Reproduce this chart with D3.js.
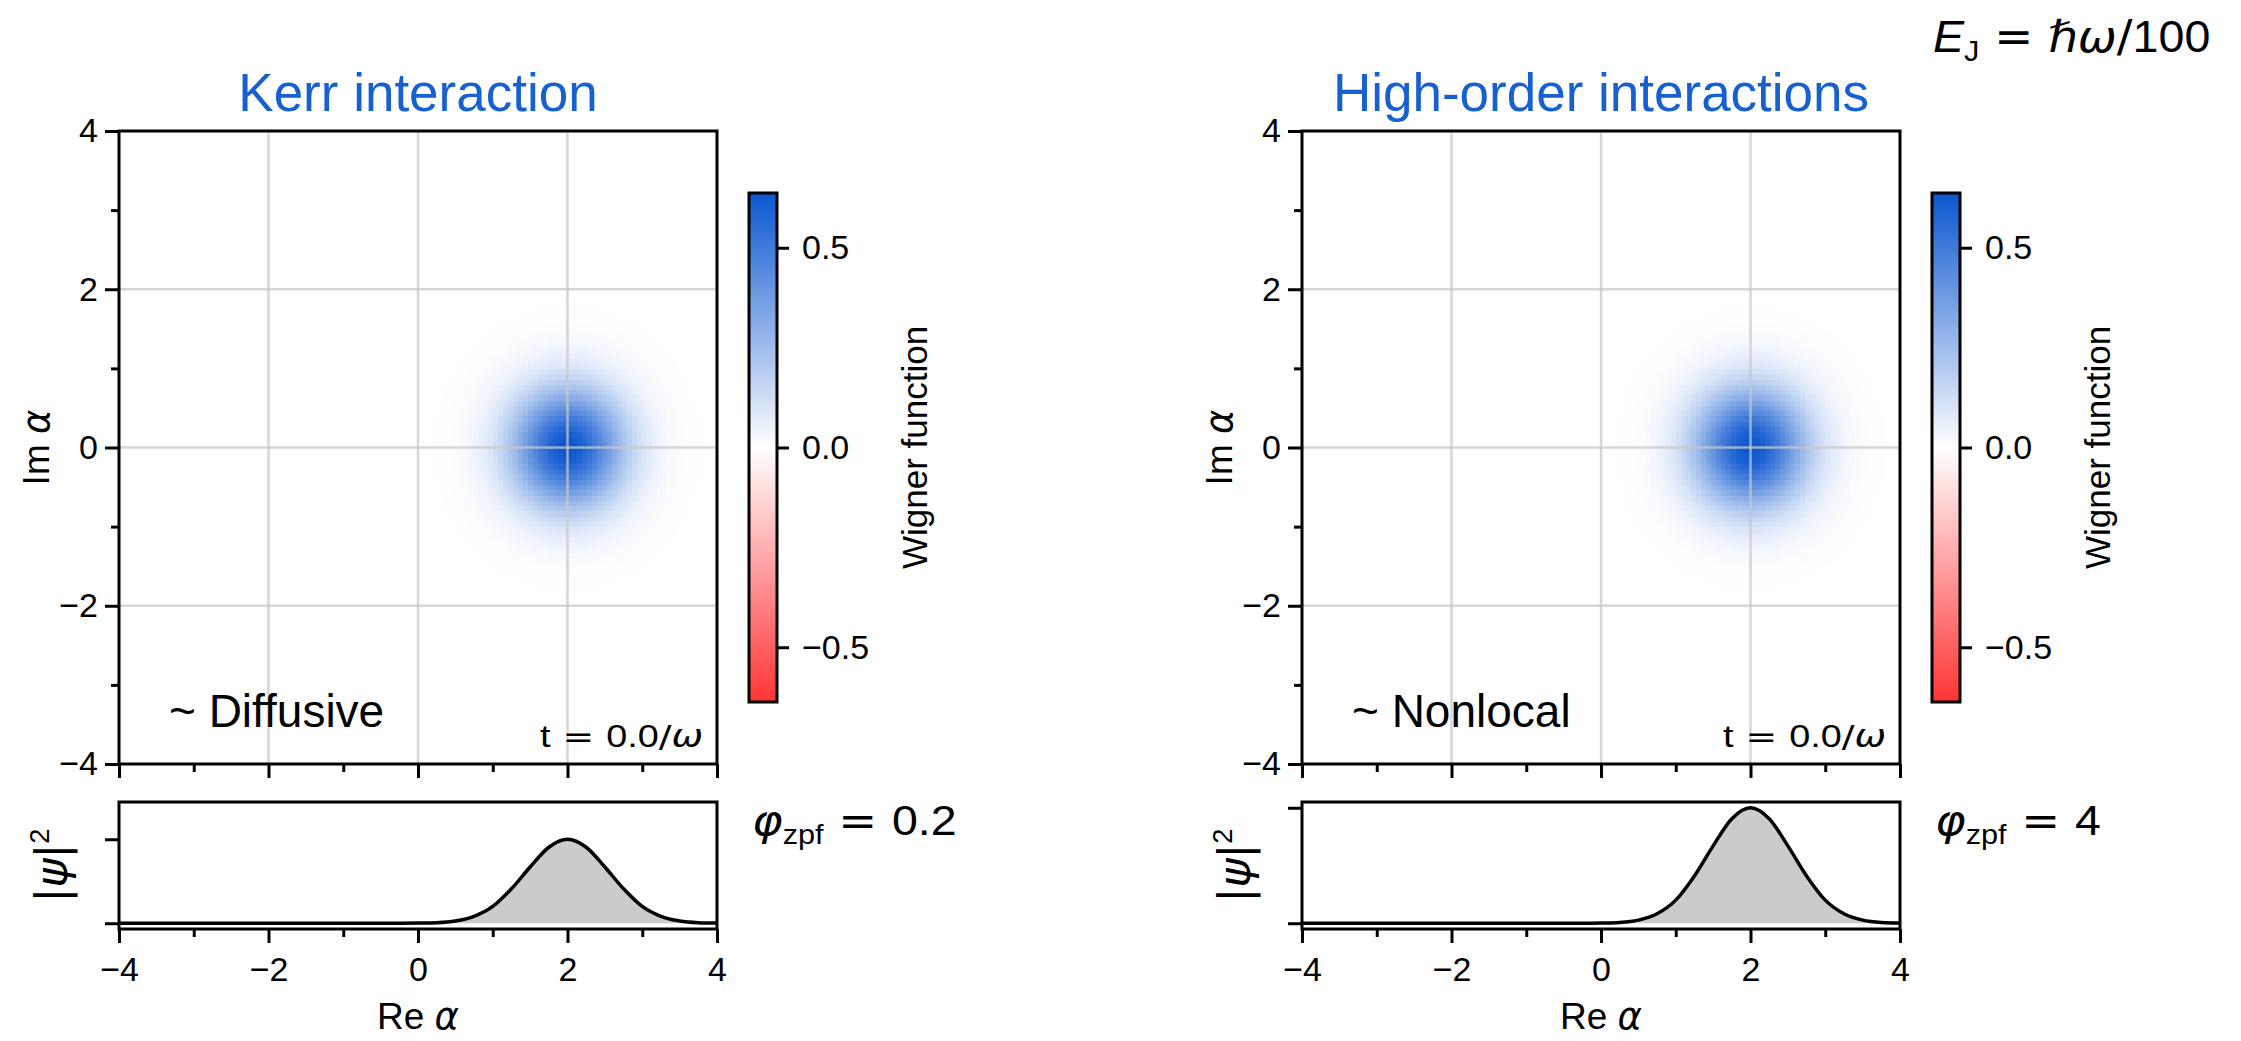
<!DOCTYPE html>
<html>
<head>
<meta charset="utf-8">
<script src="https://cdn.jsdelivr.net/npm/d3@7"></script>
<style>
  body { margin: 0; background: #fff; }
  svg { display: block; }
  text { font-family: "Liberation Sans", Arial, Helvetica, sans-serif; fill: #000; }
</style>
</head>
<body>
<svg id="fig" width="2241" height="1041"></svg>
<script>
// ---- data ----
const panelTitles = ["Kerr interaction", "High-order interactions"];
const regimeLabels = ["~ Diffusive", "~ Nonlocal"];
const phiZpfLabels = ["0.2", "4"];
const timeLabel = "0.0";
const josephsonRatio = "100";

// coherent state shown in both phase-space panels (Re α, Im α)
const coherentAlpha = [2, 0];
const wignerPeak = 0.637;
const wignerWidth = 0.53;
const wignerLimit = 0.637;

const axisMajorTicks = [-4, -2, 0, 2, 4];
const axisMinorTicks = [-3, -1, 1, 3];
const gridTicks = [-2, 0, 2];
const colorbarTicks = [-0.5, 0.0, 0.5];

// |ψ|² along Re α (normalised to its maximum)
const psiX = [-4, -3.75, -3.5, -3.25, -3, -2.75, -2.5, -2.25, -2, -1.75, -1.5, -1.25, -1, -0.75, -0.5, -0.25,
              0, 0.25, 0.5, 0.75, 1, 1.25, 1.5, 1.75, 2, 2.25, 2.5, 2.75, 3, 3.25, 3.5, 3.75, 4];
const psiSquared = [0, 0, 0, 0, 0, 0, 0, 0, 0, 0, 0, 0, 0, 0, 0, 0,
                    0.002, 0.007, 0.027, 0.082, 0.20, 0.41, 0.67, 0.905, 1.0, 0.905, 0.67, 0.41, 0.20, 0.082, 0.027, 0.007, 0.002];
// upper end of the |ψ|² axis for each panel
const psiAxisMax = [1.375, 1.0];

// ---- layout ----
const panelX0 = [119, 1302];
const plotW = 598;
const mainTop = 131, mainBottom = 764;
const lowTop = 802, lowBottom = 929;
const cbarDx = 630, cbarW = 28, cbarTop = 193, cbarBottom = 702;
const titleBlue = "#1660d2";
const mathFont = "\"DejaVu Sans\", sans-serif";
const tickFont = 34;

const svg = d3.select("#fig");
const defs = svg.append("defs");

const colour = d3.scaleLinear()
  .domain([-wignerLimit, 0, wignerLimit])
  .range(["#ff3434", "#ffffff", "#0b56cf"])
  .clamp(true);

// gradient for the colour bar
const grad = defs.append("linearGradient").attr("id", "cbar")
  .attr("x1", 0).attr("y1", 1).attr("x2", 0).attr("y2", 0);
d3.range(0, 1.0001, 0.05).forEach(f => {
  grad.append("stop").attr("offset", f)
    .attr("stop-color", colour(-wignerLimit + 2 * wignerLimit * f));
});

// text with italic / subscript / superscript pieces
// opts: anchor, rotate, sx (horizontal glyph stretch)
function richText(parent, x, y, parts, size, opts = {}) {
  const t = parent.append("text")
    .attr("font-size", size)
    .attr("text-anchor", opts.anchor || "start");
  if (opts.rotate) t.attr("transform", `translate(${x},${y}) rotate(${opts.rotate})`);
  else if (opts.sx) t.attr("transform", `translate(${x},${y}) scale(${opts.sx},1)`);
  else t.attr("x", x).attr("y", y);
  let shift = 0;
  parts.forEach(p => {
    const s = t.append("tspan").text(p.t);
    if (p.italic) s.attr("font-style", "italic");
    if (p.math) s.attr("font-family", mathFont);
    if (p.sub) {
      s.attr("font-size", size * 0.66).attr("dy", size * 0.2 - shift);
      shift = size * 0.2;
    } else if (p.sup) {
      s.attr("font-size", size * 0.62).attr("dy", -size * 0.42 - shift);
      shift = -size * 0.42;
    } else if (shift !== 0) {
      s.attr("dy", -shift);
      shift = 0;
    }
  });
  return t;
}

function styleAxis(g) {
  g.select(".domain").remove();
  g.selectAll(".tick line").attr("stroke", "#000").attr("stroke-width", 3);
  g.selectAll(".tick text").attr("font-size", tickFont).attr("fill", "#000")
    .attr("font-family", "\"Liberation Sans\", Arial, sans-serif");
}

panelTitles.forEach((title, k) => {
  const x0 = panelX0[k];
  const g = svg.append("g");

  const x = d3.scaleLinear().domain([-4, 4]).range([x0, x0 + plotW]);
  const y = d3.scaleLinear().domain([-4, 4]).range([mainBottom, mainTop]);

  // ---- Wigner function image ----
  const clipId = "clip" + k;
  defs.append("clipPath").attr("id", clipId)
    .append("rect").attr("x", x0).attr("y", mainTop)
    .attr("width", plotW).attr("height", mainBottom - mainTop);

  const n = 120, step = 8 / n;
  const cells = [];
  for (let i = 0; i < n; i++) {
    for (let j = 0; j < n; j++) {
      const re = -4 + (i + 0.5) * step, im = -4 + (j + 0.5) * step;
      const r2 = (re - coherentAlpha[0]) ** 2 + (im - coherentAlpha[1]) ** 2;
      const w = wignerPeak * Math.exp(-r2 / (2 * wignerWidth * wignerWidth));
      if (Math.abs(w) > 1e-3) cells.push({ re, im, w });
    }
  }
  g.append("g").attr("clip-path", `url(#${clipId})`)
    .selectAll("rect").data(cells).join("rect")
    .attr("x", d => x(d.re - step / 2))
    .attr("y", d => y(d.im + step / 2))
    .attr("width", x(step) - x(0) + 0.6)
    .attr("height", y(0) - y(step) + 0.6)
    .attr("fill", d => colour(d.w))
    .attr("shape-rendering", "crispEdges");

  // grid
  const grid = g.append("g").attr("stroke", "#c8c8c8").attr("stroke-width", 2.5).attr("stroke-opacity", 0.75);
  grid.selectAll(".gx").data(gridTicks).join("line")
    .attr("x1", d => x(d)).attr("x2", d => x(d)).attr("y1", mainTop).attr("y2", mainBottom);
  grid.selectAll(".gy").data(gridTicks).join("line")
    .attr("y1", d => y(d)).attr("y2", d => y(d)).attr("x1", x0).attr("x2", x0 + plotW);

  // axes of the phase-space panel
  g.append("g").attr("transform", `translate(${x0},0)`)
    .call(d3.axisLeft(y).tickValues(axisMajorTicks).tickSize(14).tickPadding(7).tickFormat(d3.format("d")))
    .call(styleAxis);
  g.append("g").attr("transform", `translate(${x0},0)`)
    .call(d3.axisLeft(y).tickValues(axisMinorTicks).tickSize(8).tickFormat(""))
    .call(styleAxis);
  g.append("g").attr("transform", `translate(0,${mainBottom})`)
    .call(d3.axisBottom(x).tickValues(axisMajorTicks).tickSize(14).tickFormat(""))
    .call(styleAxis);
  g.append("g").attr("transform", `translate(0,${mainBottom})`)
    .call(d3.axisBottom(x).tickValues(axisMinorTicks).tickSize(8).tickFormat(""))
    .call(styleAxis);

  g.append("rect").attr("x", x0).attr("y", mainTop)
    .attr("width", plotW).attr("height", mainBottom - mainTop)
    .attr("fill", "none").attr("stroke", "#000").attr("stroke-width", 3);

  // title
  g.append("text").attr("x", x0 + plotW / 2).attr("y", 111)
    .attr("text-anchor", "middle").attr("font-size", 53)
    .style("fill", titleBlue).text(title);

  // y label
  richText(g, x0 - 70, (mainTop + mainBottom) / 2,
    [{ t: "Im " }, { t: "α", italic: true, math: true }], 37, { anchor: "middle", rotate: -90 });

  // annotations inside the panel
  g.append("text").attr("x", x0 + 50).attr("y", 727).attr("font-size", 46).text(regimeLabels[k]);
  richText(g, x0 + 421, 747,
    [{ t: "t" }, { t: " = ", math: true }, { t: timeLabel }, { t: "/", math: true }, { t: "ω", italic: true, math: true }],
    31, { sx: 1.22 });

  // ---- colour bar ----
  const cx = x0 + cbarDx;
  const cy = d3.scaleLinear().domain([-wignerLimit, wignerLimit]).range([cbarBottom, cbarTop]);
  g.append("rect").attr("x", cx).attr("y", cbarTop).attr("width", cbarW)
    .attr("height", cbarBottom - cbarTop).attr("fill", "url(#cbar)")
    .attr("stroke", "#000").attr("stroke-width", 3);
  g.append("g").attr("transform", `translate(${cx + cbarW},0)`)
    .call(d3.axisRight(cy).tickValues(colorbarTicks).tickSize(12).tickPadding(13).tickFormat(d3.format(".1f")))
    .call(styleAxis);
  g.append("text").attr("font-size", 35).attr("text-anchor", "middle")
    .attr("transform", `translate(${cx + 178},${(cbarTop + cbarBottom) / 2}) rotate(-90)`)
    .text("Wigner function");

  // ---- |ψ|² panel ----
  const yl = d3.scaleLinear()
    .domain([-0.05 * psiAxisMax[k], 1.05 * psiAxisMax[k]])
    .range([lowBottom, lowTop]);
  const pts = psiX.map((v, i) => [v, psiSquared[i]]);

  g.append("path").datum(pts)
    .attr("d", d3.area().x(d => x(d[0])).y0(yl(0)).y1(d => yl(d[1])).curve(d3.curveMonotoneX))
    .attr("fill", "#cbcbcb");
  g.append("path").datum(pts)
    .attr("d", d3.line().x(d => x(d[0])).y(d => yl(d[1])).curve(d3.curveMonotoneX))
    .attr("fill", "none").attr("stroke", "#000").attr("stroke-width", 3.5);

  g.append("g").attr("transform", `translate(${x0},0)`)
    .call(d3.axisLeft(yl).tickValues([0, 1]).tickSize(14).tickFormat(""))
    .call(styleAxis);
  g.append("g").attr("transform", `translate(0,${lowBottom})`)
    .call(d3.axisBottom(x).tickValues(axisMajorTicks).tickSize(14).tickPadding(14).tickFormat(d3.format("d")))
    .call(styleAxis);
  g.append("g").attr("transform", `translate(0,${lowBottom})`)
    .call(d3.axisBottom(x).tickValues(axisMinorTicks).tickSize(8).tickFormat(""))
    .call(styleAxis);
  g.append("rect").attr("x", x0).attr("y", lowTop)
    .attr("width", plotW).attr("height", lowBottom - lowTop)
    .attr("fill", "none").attr("stroke", "#000").attr("stroke-width", 3);

  richText(g, x0 + plotW / 2, 1029, [{ t: "Re " }, { t: "α", italic: true, math: true }], 37, { anchor: "middle" });
  richText(g, x0 - 52, (lowTop + lowBottom) / 2,
    [{ t: "|", math: true }, { t: "ψ", italic: true, math: true }, { t: "|", math: true }, { t: "2", sup: true }],
    44, { anchor: "middle", rotate: -90 });

  richText(g, x0 + 633, 835,
    [{ t: "φ", italic: true, math: true }, { t: "zpf", sub: true }, { t: " = ", math: true }, { t: phiZpfLabels[k] }],
    43, { sx: 1.08 });
});

// energy scale
richText(svg, 1933, 52,
  [{ t: "E", italic: true }, { t: "J", sub: true }, { t: " = ", math: true }, { t: "ℏω", italic: true, math: true },
   { t: "/", math: true }, { t: josephsonRatio }],
  44, { sx: 1.06 });
</script>
</body>
</html>
